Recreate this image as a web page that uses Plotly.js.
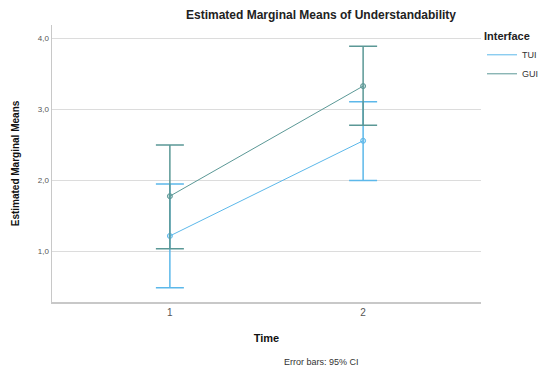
<!DOCTYPE html>
<html>
<head>
<meta charset="utf-8">
<script src="https://cdn.plot.ly/plotly-3.0.1.min.js"></script>
<style>html,body{margin:0;padding:0;background:#fff;}#chart{width:538px;height:372px;}</style>
</head>
<body>
<div id="chart"></div>
<script>
const time = [1, 2];
const tuiMean = [1.22, 2.56];
const tuiUpper = [1.95, 3.11];
const tuiLower = [0.49, 2.00];
const guiMean = [1.78, 3.33];
const guiUpper = [2.50, 3.89];
const guiLower = [1.04, 2.78];

function traces(name, mean, upper, lower, color, fill) {
  return [{
    x: time, y: mean, name: name, type: 'scatter', mode: 'lines',
    line: {color: color, width: 1}, legendgroup: name, showlegend: true
  }, {
    x: time, y: mean, name: name, type: 'scatter', mode: 'markers',
    legendgroup: name, showlegend: false,
    marker: {size: 5, color: fill, line: {color: color, width: 1}},
    error_y: {
      type: 'data', symmetric: false,
      array: upper.map((u, i) => u - mean[i]),
      arrayminus: mean.map((m, i) => m - lower[i]),
      color: color, thickness: 1.5, width: 14
    }
  }];
}

const data = [
  ...traces('TUI', tuiMean, tuiUpper, tuiLower, '#5cb8ea', 'rgba(92,184,234,0.35)'),
  ...traces('GUI', guiMean, guiUpper, guiLower, '#5b9896', 'rgba(91,152,150,0.35)')
];

const W = 538, H = 372, L = 52, R = 57;
const layout = {
  width: W, height: H,
  margin: {l: L, r: R, t: 25, b: 70},
  paper_bgcolor: '#fff', plot_bgcolor: '#fff',
  separators: ',.',
  font: {family: 'Liberation Sans, Arial, sans-serif', color: '#333'},
  showlegend: true,
  legend: {
    xref: 'container', yref: 'container',
    x: 482 / W, xanchor: 'left', y: 1 - 26 / H, yanchor: 'top',
    title: {text: '<b>Interface</b>', font: {size: 11, color: '#222'}},
    font: {size: 9, color: '#333'},
    tracegroupgap: 0, itemwidth: 30, bgcolor: 'rgba(0,0,0,0)'
  },
  xaxis: {
    range: [0.39, 2.61], tickvals: time, ticktext: ['1', '2'],
    showgrid: false, zeroline: false, showline: true, linecolor: '#c8c8c8', linewidth: 1.5,
    ticks: '', tickfont: {size: 10, color: '#555'},
    title: {text: '<b>Time</b>', font: {size: 11, color: '#111'}, standoff: 18}
  },
  yaxis: {
    range: [0.29, 4.19], tickvals: [1, 2, 3, 4], tickformat: '.1f',
    showgrid: true, gridcolor: '#dcdcdc', gridwidth: 1.2, zeroline: false,
    showline: true, linecolor: '#c8c8c8', linewidth: 1.5, ticks: '',
    tickfont: {size: 8, color: '#555'},
    title: {text: '<b>Estimated Marginal Means</b>', font: {size: 10, color: '#111'}, standoff: 16}
  },
  title: {
    text: '<b>Estimated Marginal Means of Understandability</b>',
    font: {size: 12, color: '#222'}, x: 321 / W, xanchor: 'center', y: 1 - 15 / H, yanchor: 'middle'
  },
  annotations: [{
    text: 'Error bars: 95% CI', xref: 'paper', yref: 'paper',
    x: (321 - L) / (W - L - R), y: -(362 - 302) / 277, xanchor: 'center', yanchor: 'middle',
    showarrow: false, font: {size: 9, color: '#333'}
  }]
};

Plotly.newPlot('chart', data, layout, {displayModeBar: false, staticPlot: true});
</script>
</body>
</html>
